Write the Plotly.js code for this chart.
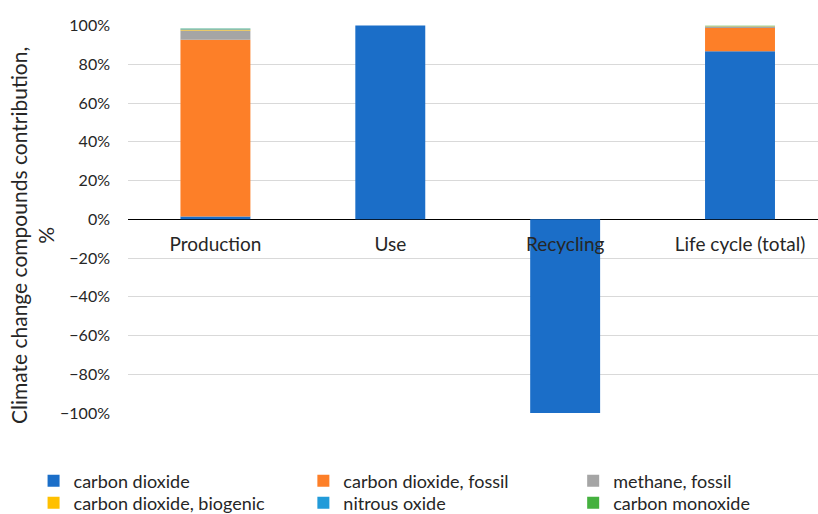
<!DOCTYPE html>
<html>
<head>
<meta charset="utf-8">
<script src="https://cdn.plot.ly/plotly-3.0.1.min.js"></script>
<style>html,body{margin:0;padding:0;overflow:hidden;background:#fff}</style>
</head>
<body>
<div id="chart" style="width:818px;height:514px"></div>
<script>
const categories = ["Production", "Use", "Recycling", "Life cycle (total)"];
const seriesNames = ["carbon dioxide", "carbon dioxide, fossil", "methane, fossil",
                     "carbon dioxide, biogenic", "nitrous oxide", "carbon monoxide"];
const carbonDioxide   = [0.015, 1.00, -1.00, 0.868];
const co2Fossil       = [0.912, 0, 0, 0.120];
const methaneFossil   = [0.048, 0, 0, 0.006];
const co2Biogenic     = [0.005, 0, 0, 0.002];
const nitrousOxide    = [0.003, 0, 0, 0.002];
const carbonMonoxide  = [0.002, 0, 0, 0.001];
const yTickValues = [-1, -0.8, -0.6, -0.4, -0.2, 0, 0.2, 0.4, 0.6, 0.8, 1];
const yTitle = "Climate change compounds contribution,<br>%";

const colors = ["#1b6ec8", "#fd7f28", "#a5a5a5", "#ffc000", "#229bd9", "#45b13f"];
const seriesValues = [carbonDioxide, co2Fossil, methaneFossil, co2Biogenic, nitrousOxide, carbonMonoxide];

const font = "Lato, 'Open Sans', sans-serif";
const legendNames = ["legend", "legend2", "legend3", "legend4", "legend5", "legend6"];
const traces = seriesValues.map((vals, i) => ({
  type: "bar",
  name: seriesNames[i],
  x: categories,
  y: vals,
  legend: legendNames[i],
  marker: {color: colors[i], line: {width: 0}},
  hoverinfo: "name+y"
}));

// plot area in pixels: left 127.5, width 690.5, top 25, height 388
const PL = 127.5, PW = 690.5, PT = 25, PH = 388;
const px2x = p => (p - PL) / PW;
const py2y = p => (PT + PH - p) / PH;

const colX = [33, 303, 573];
const rowY = [481, 503];

const layout = {
  width: 818, height: 514,
  margin: {l: PL, r: 0, t: PT, b: 514 - PT - PH, autoexpand: false},
  barmode: "relative",
  bargap: 0.6,
  paper_bgcolor: "#fff",
  plot_bgcolor: "#fff",
  font: {family: font, size: 16, color: "#262626"},
  showlegend: true,
  xaxis: {
    type: "category",
    range: [-0.5, 3.446],
    anchor: "free",
    position: 0.5,
    showline: false,
    showgrid: false,
    ticks: "",
    tickfont: {family: font, size: 19, color: "#262626"},
    ticklabelstandoff: 12,
    automargin: false,
    fixedrange: true
  },
  yaxis: {
    range: [-1.0, 1.003],
    tickvals: yTickValues,
    tickformat: ".0%",
    showgrid: true,
    gridcolor: "#d9d9d9",
    gridwidth: 1,
    zeroline: true,
    zerolinecolor: "#000",
    zerolinewidth: 1.5,
    showline: false,
    ticks: "",
    ticklabelstandoff: 17,
    automargin: false,
    tickfont: {family: font, size: 16, color: "#262626"},
    fixedrange: true
  },
  annotations: [{
    text: yTitle,
    xref: "paper", yref: "paper",
    x: px2x(31.5), y: py2y(236),
    xanchor: "center", yanchor: "middle",
    textangle: -90,
    showarrow: false,
    font: {family: font, size: 21, color: "#262626"}
  }]
};

legendNames.forEach((ln, i) => {
  const col = i % 3, row = Math.floor(i / 3);
  layout[ln] = {
    orientation: "v",
    x: px2x(colX[col]), xanchor: "left",
    y: py2y(rowY[row]), yanchor: "middle",
    itemwidth: 30,
    bgcolor: "rgba(0,0,0,0)",
    font: {family: font, size: 18, color: "#262626"}
  };
});

Plotly.newPlot("chart", traces, layout, {displayModeBar: false, staticPlot: true});
</script>
</body>
</html>
